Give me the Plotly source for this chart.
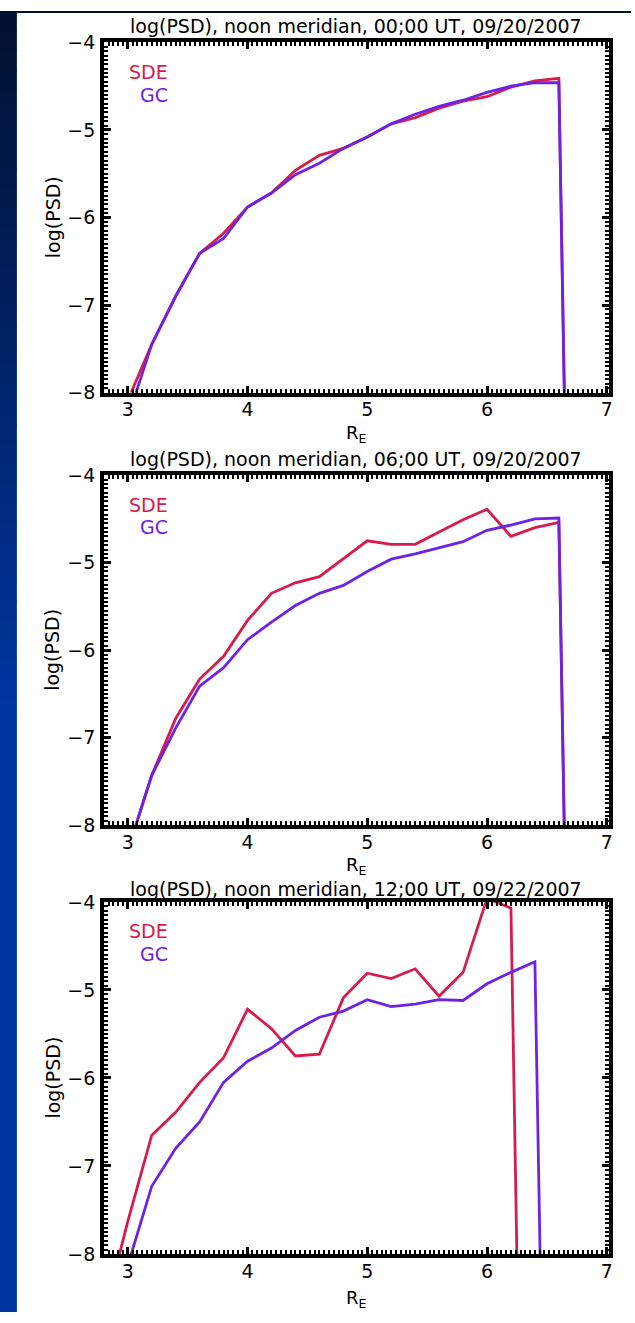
import plotly.graph_objects as go

W, H = 635, 1323

# ---------------- data ----------------
x_a = [3.0, 3.2, 3.4, 3.6, 3.8, 4.0, 4.2, 4.4, 4.6, 4.8, 5.0, 5.2, 5.4, 5.6, 5.8, 6.0, 6.2, 6.4, 6.6, 6.8]
sde_1 = [-8.09, -7.45, -6.90, -6.41, -6.18, -5.88, -5.72, -5.46, -5.29, -5.21, -5.08, -4.93, -4.86, -4.75, -4.67, -4.62, -4.51, -4.44, -4.41, -20]
gc_1 = [-8.29, -7.45, -6.90, -6.41, -6.24, -5.88, -5.72, -5.51, -5.38, -5.21, -5.08, -4.93, -4.82, -4.73, -4.66, -4.57, -4.50, -4.46, -4.46, -20]

sde_2 = [-8.29, -7.43, -6.78, -6.33, -6.07, -5.66, -5.35, -5.23, -5.16, -4.96, -4.75, -4.79, -4.79, -4.65, -4.51, -4.39, -4.70, -4.60, -4.54, -20]
gc_2 = [-8.29, -7.43, -6.89, -6.41, -6.20, -5.88, -5.68, -5.49, -5.35, -5.26, -5.10, -4.96, -4.90, -4.83, -4.76, -4.63, -4.57, -4.50, -4.49, -20]

x_b = [2.8, 3.0, 3.2, 3.4, 3.6, 3.8, 4.0, 4.2, 4.4, 4.6, 4.8, 5.0, 5.2, 5.4, 5.6, 5.8, 6.0, 6.2, 6.4, 6.6]
sde_3 = [-8.7, -7.63, -6.65, -6.39, -6.05, -5.77, -5.22, -5.44, -5.75, -5.73, -5.09, -4.81, -4.87, -4.76, -5.07, -4.80, -3.96, -4.07, -20, None]
gc_3 = [None, -8.13, -7.23, -6.80, -6.50, -6.05, -5.81, -5.66, -5.46, -5.31, -5.24, -5.11, -5.19, -5.16, -5.11, -5.12, -4.93, -4.80, -4.68, -20]

titles = ["log(PSD), noon meridian, 00;00 UT, 09/20/2007",
          "log(PSD), noon meridian, 06;00 UT, 09/20/2007",
          "log(PSD), noon meridian, 12;00 UT, 09/22/2007"]
series_names = ["SDE", "GC"]
x_ticks = [3, 4, 5, 6, 7]
y_ticks = [-4, -5, -6, -7, -8]

panels = [(x_a, sde_1, gc_1), (x_a, sde_2, gc_2), (x_b, sde_3, gc_3)]

RED = "#d81b4c"
PURPLE = "#6d22e4"
FONT = "DejaVu Sans"
FS = 19

# pixel layout (top, bottom of frame, title offset, x-title offset) for each panel
frames = [(32, 388, 17, 42), (472, 828, 16, 41), (906, 1264, 13, 46)]
XL, XR = 104.5, 613

def py(v):
    return 1 - v / H

def px(v):
    return v / W

fig = go.Figure()
layout = dict(
    width=W, height=H, margin=dict(l=0, r=0, t=0, b=0),
    paper_bgcolor="white", plot_bgcolor="white", showlegend=False,
    font=dict(family=FONT, size=FS, color="black"),
)
annotations = []
shapes = []

for i, ((xs, sde, gc), (top, bot, toff, xoff)) in enumerate(zip(panels, frames)):
    n = "" if i == 0 else str(i + 1)
    xa, ya = "x" + n, "y" + n
    fig.add_trace(go.Scatter(x=xs, y=sde, mode="lines", name=series_names[0],
                             line=dict(color=RED, width=2.8), xaxis=xa, yaxis=ya))
    fig.add_trace(go.Scatter(x=xs, y=gc, mode="lines", name=series_names[1],
                             line=dict(color=PURPLE, width=2.8), xaxis=xa, yaxis=ya))
    common = dict(
        showline=True, linewidth=3.5, linecolor="black", mirror="allticks",
        ticks="inside", ticklen=7, tickwidth=3, tickcolor="black",
        showgrid=False, zeroline=False,
        tickfont=dict(family=FONT, size=FS, color="black"),
    )
    layout["xaxis" + n] = dict(
        common, domain=[px(XL), px(XR)], range=[2.8, 7.02], anchor=ya,
        tickvals=x_ticks, ticktext=[str(t) for t in x_ticks], ticklabelstandoff=-3,
        minor=dict(dtick=0.04, tick0=0, ticks="inside", ticklen=4, tickwidth=2, tickcolor="black"),
    )
    layout["yaxis" + n] = dict(
        common, domain=[py(bot), py(top)], range=[-8, -4], anchor=xa,
        tickvals=y_ticks, ticktext=["\u2212" + str(abs(t)) for t in y_ticks], ticklabelstandoff=1,
        minor=dict(dtick=0.05, tick0=0, ticks="inside", ticklen=4, tickwidth=2, tickcolor="black"),
    )
    # title
    annotations.append(dict(text=titles[i], x=px((XL + XR) / 2), y=py(top - toff),
                            xref="paper", yref="paper", showarrow=False,
                            xanchor="center", yanchor="middle",
                            font=dict(family=FONT, size=FS, color="black")))
    # y title
    annotations.append(dict(text="log(PSD)", x=px(53), y=py((top + bot) / 2),
                            xref="paper", yref="paper", showarrow=False, textangle=-90,
                            xanchor="center", yanchor="middle",
                            font=dict(family=FONT, size=FS, color="black")))
    # x title
    annotations.append(dict(text="R<sub>E</sub>", x=px((XL + XR) / 2), y=py(bot + xoff),
                            xref="paper", yref="paper", showarrow=False,
                            xanchor="center", yanchor="middle",
                            font=dict(family=FONT, size=FS - 1, color="black")))
    # legend labels
    annotations.append(dict(text=series_names[0], x=px(171), y=py(top + 30),
                            xref="paper", yref="paper", showarrow=False,
                            xanchor="right", yanchor="middle",
                            font=dict(family=FONT, size=FS, color=RED)))
    annotations.append(dict(text=series_names[1], x=px(171), y=py(top + 53),
                            xref="paper", yref="paper", showarrow=False,
                            xanchor="right", yanchor="middle",
                            font=dict(family=FONT, size=FS, color=PURPLE)))

# slide background strip (gradient approximated with bands)
def lerp(c1, c2, t):
    return "rgb(%d,%d,%d)" % tuple(round(a + (b - a) * t) for a, b in zip(c1, c2))

c_top, c_bot = (0, 16, 48), (0, 54, 160)
nb = 36
grad_end = 720
for k in range(nb):
    y0 = grad_end * k / nb
    y1 = grad_end * (k + 1) / nb + 1
    shapes.append(dict(type="rect", xref="paper", yref="paper", x0=0, x1=px(17),
                       y0=py(y1), y1=py(y0), line=dict(width=0),
                       fillcolor=lerp(c_top, c_bot, k / (nb - 1))))
shapes.append(dict(type="rect", xref="paper", yref="paper", x0=0, x1=px(17),
                   y0=0, y1=py(grad_end), line=dict(width=0), fillcolor="rgb(0,54,160)"))
shapes.append(dict(type="rect", xref="paper", yref="paper", x0=0, x1=1,
                   y0=py(2), y1=1, line=dict(width=0), fillcolor="rgb(0,16,48)"))

layout["annotations"] = annotations
layout["shapes"] = shapes
fig.update_layout(**layout)
fig.write_html("out.html")
